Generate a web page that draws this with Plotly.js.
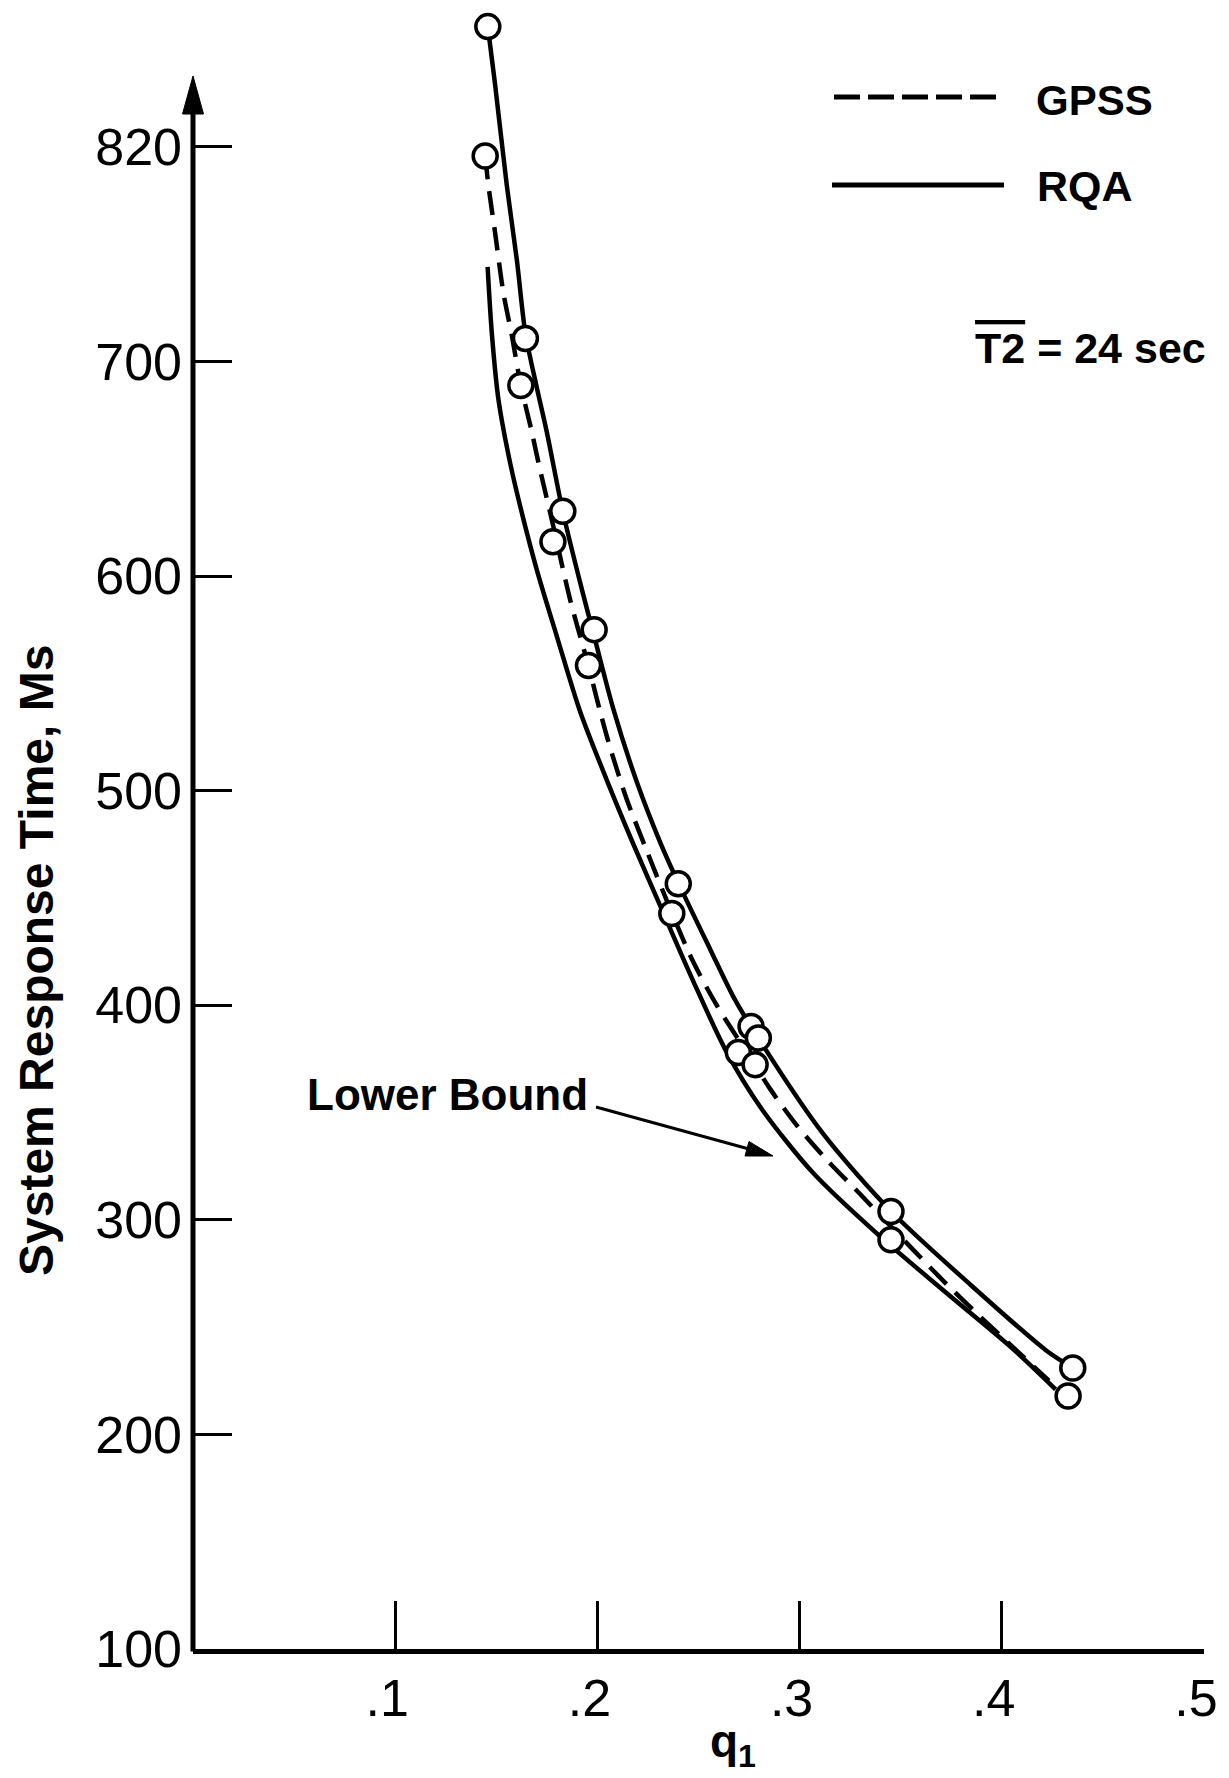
<!DOCTYPE html>
<html>
<head>
<meta charset="utf-8">
<script src="https://cdn.plot.ly/plotly-3.0.1.min.js"></script>
<style>
html,body{margin:0;padding:0;background:#fff;}
#chart{width:1229px;height:1778px;}
</style>
</head>
<body>
<div id="chart"></div>
<script>
// ---------------- data ----------------
// RQA model (solid upper curve)
const rqaCurveX = [0.1458,0.1494,0.1552,0.1602,0.1644,0.1700,0.1750,0.1829,0.1928,0.1984,0.2079,0.2195,0.2310,0.2400,0.2558,0.2672,0.2760,0.3117,0.3452,0.3842,0.4221,0.4351];
const rqaCurveY = [856,829,782,747,713,688,667,630,592,572,538,504,476,457,426,404,390,340,304,270,239,231];
// RQA plotted points (circles)
const rqaPointX = [0.1458,0.1644,0.1829,0.1984,0.2400,0.2760,0.2796,0.3452,0.4351];
const rqaPointY = [856,710.7,630.2,575,456.6,390.1,384.7,303.9,230.9];

// GPSS simulation (dashed curve)
const gpssCurveX = [0.1445,0.1461,0.1494,0.1535,0.1577,0.1621,0.1676,0.1708,0.1780,0.1865,0.1956,0.2013,0.2063,0.2145,0.2244,0.2368,0.2475,0.2590,0.2780,0.2854,0.2986,0.3134,0.3299,0.3562,0.3727,0.3892,0.4051,0.4233];
const gpssCurveY = [796,782,760,732,712,689,667,653,624,589,558,537,520,496,472,443,420,400,372,361,344,328,312,286,270,255,241,225];
// GPSS plotted points (circles)
const gpssPointX = [0.1445,0.1621,0.1780,0.1956,0.2368,0.2697,0.2780,0.3452,0.4328];
const gpssPointY = [795.7,688.8,616,558.3,442.7,378,372.3,290.7,217.9];

// Lower bound (solid lower curve)
const lowerX = [0.1457,0.1478,0.1511,0.1570,0.1630,0.1700,0.1799,0.1914,0.2046,0.2178,0.2326,0.2475,0.2640,0.2810,0.3065,0.3395,0.3725,0.4053,0.4266];
const lowerY = [744,713,682,652,628,603,572,537,505,475,443,411,378,352,322,292.5,266,240,221];

// axis ticks
const xTickVals = [0.1,0.2,0.3,0.4,0.5];
const xTickText = ['.1','.2','.3','.4','.5'];
const yTickVals = [100,200,300,400,500,600,700,800];
const yTickText = ['100','200','300','400','500','600','700','820'];

// ---------------- layout helpers ----------------
const W = 1229, H = 1778;
const L = 193, R = 25, T = 5, B = 129;
const plotW = W - L - R, plotH = H - T - B;
const pxPerUnit = 2.146;
const yTop = 100 + plotH / pxPerUnit;
function px(x){ return (x - L) / plotW; }
function py(y){ return (H - B - y) / plotH; }
function yv(y){ return 100 + (H - B - y) / pxPerUnit; }   // pixel -> y value
function xv(x){ return (x - L) / plotW * 0.5; }             // pixel -> x value

const ink = '#000';
const fam = 'Liberation Sans, Arial, sans-serif';

const data = [
  {x: lowerX, y: lowerY, type:'scatter', mode:'lines', name:'Lower Bound',
   line:{color:ink, width:4.5, shape:'spline', smoothing:0.8}},
  {x: gpssCurveX, y: gpssCurveY, type:'scatter', mode:'lines', name:'GPSS',
   line:{color:ink, width:4.5, dash:'24px,12px', shape:'spline', smoothing:0.8}},
  {x: rqaCurveX, y: rqaCurveY, type:'scatter', mode:'lines', name:'RQA',
   line:{color:ink, width:4.5, shape:'spline', smoothing:0.8}},
  {x: gpssPointX, y: gpssPointY, type:'scatter', mode:'markers', name:'GPSS points', cliponaxis:false,
   marker:{symbol:'circle', size:24, color:'#fff', line:{color:ink, width:3.5}}},
  {x: rqaPointX, y: rqaPointY, type:'scatter', mode:'markers', name:'RQA points', cliponaxis:false,
   marker:{symbol:'circle', size:24, color:'#fff', line:{color:ink, width:3.5}}}
];

const tipX = xv(773), tipY = yv(1156);
const arrowPath = 'M' + px(193) + ',' + py(76) + ' L' + px(182.5) + ',' + py(114) +
                  ' L' + px(203.5) + ',' + py(114) + ' Z';

const layout = {
  width: W, height: H,
  margin: {l:L, r:R, t:T, b:B, pad:0},
  paper_bgcolor:'#fff', plot_bgcolor:'#fff',
  showlegend:false,
  hovermode:false,
  xaxis:{
    range:[0,0.5], showgrid:false, zeroline:false,
    showline:true, linewidth:5, linecolor:ink,
    ticks:'inside', ticklen:48, tickwidth:3, tickcolor:ink,
    tickmode:'array', tickvals:xTickVals, ticktext:xTickText,
    tickfont:{family:fam, size:52, color:ink},
    ticklabelshift:-8, ticklabelstandoff:0
  },
  yaxis:{
    range:[100, yTop], showgrid:false, zeroline:false,
    showline:false,
    ticks:'inside', ticklen:39, tickwidth:3, tickcolor:ink,
    tickmode:'array', tickvals:yTickVals, ticktext:yTickText,
    tickfont:{family:fam, size:52, color:ink},
    ticklabelstandoff:10
  },
  shapes:[
    // y axis line with arrow head (paper refs so nothing is clipped)
    {type:'line', xref:'paper', yref:'paper', x0:0, x1:0, y0:py(1651.5), y1:py(100),
     line:{color:ink, width:5}},
    {type:'path', xref:'paper', yref:'paper', path:arrowPath, fillcolor:ink, line:{color:ink, width:1}},
    // legend samples
    {type:'line', xref:'paper', yref:'paper', x0:px(834), x1:px(1002), y0:py(97), y1:py(97),
     line:{color:ink, width:5, dash:'26px,8px'}},
    {type:'line', xref:'paper', yref:'paper', x0:px(832), x1:px(1004), y0:py(185), y1:py(185),
     line:{color:ink, width:5}},
    // "Lower Bound" pointer
    {type:'line', xref:'x', yref:'y', xsizemode:'pixel', ysizemode:'pixel', xanchor:tipX, yanchor:tipY,
     x0:-177, y0:49, x1:-24, y1:7, line:{color:ink, width:3}},
    {type:'path', xref:'x', yref:'y', xsizemode:'pixel', ysizemode:'pixel', xanchor:tipX, yanchor:tipY,
     path:'M0,0 L-24,14.5 L-28,0 Z', fillcolor:ink, line:{color:ink, width:1}}
  ],
  annotations:[
    {xref:'paper', yref:'paper', x:px(36), y:py(961), text:'System Response Time, Ms', textangle:-90,
     showarrow:false, xanchor:'center', yanchor:'middle',
     font:{family:fam, size:48, weight:700, color:ink}},
    {xref:'paper', yref:'paper', x:px(733), y:py(1745), text:'q<sub>1</sub>',
     showarrow:false, xanchor:'center', yanchor:'middle',
     font:{family:fam, size:46, weight:700, color:ink}},
    {xref:'paper', yref:'paper', x:px(1034), y:py(100), text:'GPSS',
     showarrow:false, xanchor:'left', yanchor:'middle',
     font:{family:fam, size:42, weight:700, color:ink}},
    {xref:'paper', yref:'paper', x:px(1035), y:py(186), text:'RQA',
     showarrow:false, xanchor:'left', yanchor:'middle',
     font:{family:fam, size:43, weight:700, color:ink}},
    {xref:'paper', yref:'paper', x:px(1090), y:py(348),
     text:"<span style='text-decoration:overline'>T2</span> = 24 sec",
     showarrow:false, xanchor:'center', yanchor:'middle',
     font:{family:fam, size:43, weight:700, color:ink}},
    {xref:'paper', yref:'paper', x:px(447), y:py(1094), text:'Lower Bound',
     showarrow:false, xanchor:'center', yanchor:'middle',
     font:{family:fam, size:44, weight:700, color:ink}}
  ]
};

Plotly.newPlot('chart', data, layout, {staticPlot:true, displayModeBar:false});
</script>
</body>
</html>
